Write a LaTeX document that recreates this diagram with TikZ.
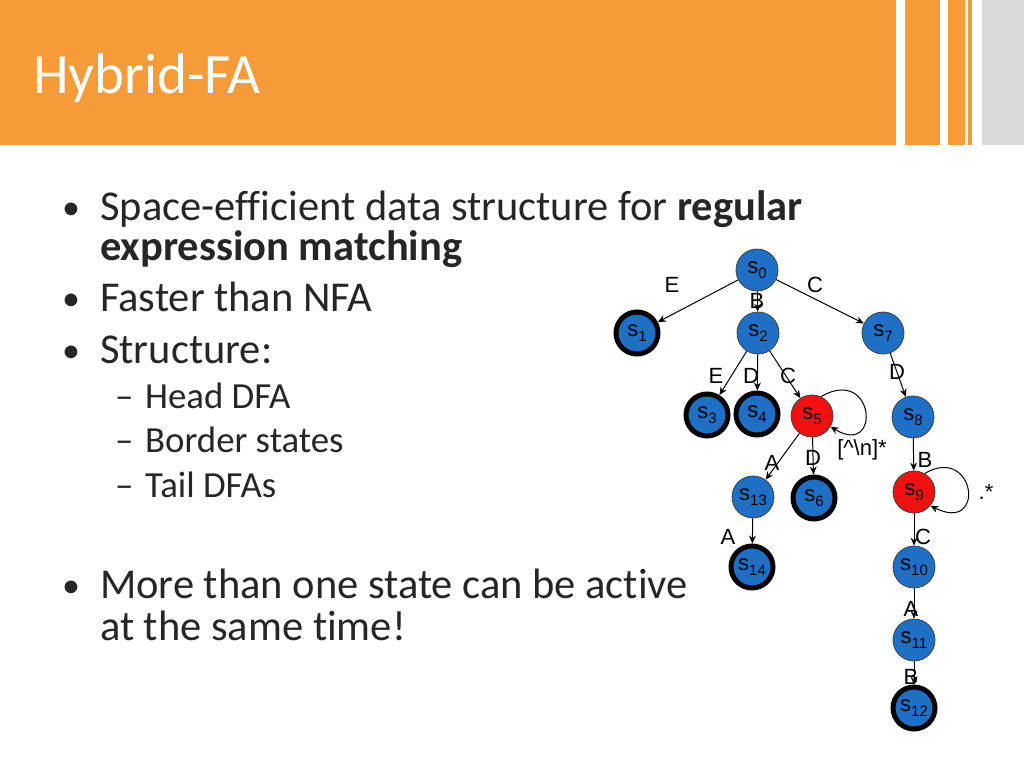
\documentclass[tikz,border=0pt]{standalone}
\usepackage{fontspec}
\setmainfont{Carlito}[Ligatures=NoCommon]
\newfontfamily\arialf{Liberation Sans}
\usetikzlibrary{arrows.meta}
\definecolor{orng}{HTML}{F59B3A}
\definecolor{gry}{HTML}{D9D9D9}
\definecolor{nblue}{HTML}{1F6FC4}
\definecolor{nred}{HTML}{F21010}
\definecolor{txt}{HTML}{262626}
\newcommand\ssub[1]{\raisebox{-5pt}{\fontsize{15}{15}\selectfont #1}}
\begin{document}
\begin{tikzpicture}[x=1pt,y=-1pt,
  st/.style={circle, fill=nblue, draw=black!75, line width=0.8pt, minimum size=42pt, inner sep=0pt, font=\arialf\fontsize{22}{22}\selectfont},
  acc/.style={st, draw=black, line width=5pt},
  rd/.style={st, fill=nred},
  arr/.style={-{Stealth[length=8pt,width=7pt]}, line width=1pt},
  lbl/.style={font=\arialf\fontsize{22}{22}\selectfont, inner sep=0pt},
  body/.style={anchor=base west, inner sep=0pt, text=txt, font=\fontsize{42.5}{42.5}\selectfont},
  bul/.style={anchor=base west, inner sep=0pt, text=txt, font=\fontsize{36}{36}\selectfont},
  subb/.style={anchor=base west, inner sep=0pt, text=txt, font=\fontsize{36.8}{36.8}\selectfont}]
\useasboundingbox (0,0) rectangle (1024,768);
\fill[white] (0,0) rectangle (1024,768);
% header
\fill[orng] (0,0) rectangle (896,145);
\fill[orng] (905,0) rectangle (940,145);
\fill[orng] (948,0) rectangle (965,145);
\fill[orng] (968,0) rectangle (972,145);
\fill[gry] (982,0) rectangle (1024,145);
\node[anchor=base west, inner sep=0pt, text=white, font=\fontsize{57}{57}\selectfont] (title) at (33,93) {Hybrid-FA};
% bullets
\node[bul] (b1) at (62,219) {•};
\node[body] (t1) at (100,220) {Space-efficient data structure for \textbf{regular}};
\node[body] (t1b) at (100,260) {\textbf{expression matching}};
\node[bul] (b2) at (62,310) {•};
\node[body] (t2) at (100,311) {Faster than NFA};
\node[bul] (b3) at (62,362) {•};
\node[body] (t3) at (100,363) {Structure:};
\node[subb] (d1) at (115,408) {–};
\node[subb] (u1) at (145,408) {Head DFA};
\node[subb] (d2) at (115,452) {–};
\node[subb] (u2) at (145,452) {Border states};
\node[subb] (d3) at (115,497) {–};
\node[subb] (u3) at (145,497) {Tail DFAs};
\node[bul] (b4) at (62,597) {•};
\node[body] (t4) at (100,598) {More than one state can be active};
\node[body] (t4b) at (100,640) {at the same time!};
% states
\node[st]  (s0)  at (757,270) {s\ssub{0}};
\node[acc] (s1)  at (637,333) {s\ssub{1}};
\node[st]  (s2)  at (758,333) {s\ssub{2}};
\node[st]  (s7)  at (883,333) {s\ssub{7}};
\node[acc] (s3)  at (707,415) {s\ssub{3}};
\node[acc] (s4)  at (757,414) {s\ssub{4}};
\node[rd]  (s5)  at (812,416) {s\ssub{5}};
\node[st]  (s8)  at (913,417) {s\ssub{8}};
\node[st]  (s13) at (753,497) {s\ssub{13}};
\node[acc] (s6)  at (814,498) {s\ssub{6}};
\node[rd]  (s9)  at (914,492) {s\ssub{9}};
\node[acc] (s14) at (752,567) {s\ssub{14}};
\node[st]  (s10) at (914,567) {s\ssub{10}};
\node[st]  (s11) at (914,640) {s\ssub{11}};
\node[acc] (s12) at (914,708) {s\ssub{12}};
% edges
\draw[arr] (s0) -- (s1) node[lbl] at (672,285) {E};
\draw[arr] (s0) -- (s2) node[lbl] at (757,301) {B};
\draw[arr] (s0) -- (s7) node[lbl] at (815,285) {C};
\draw[arr] (s2) -- (s3) node[lbl] at (716,376) {E};
\draw[arr] (s2) -- (s4) node[lbl] at (751,376) {D};
\draw[arr] (s2) -- (s5) node[lbl] at (788,376) {C};
\draw[arr] (s7) -- (s8) node[lbl] at (897,372) {D};
\draw[arr] (s5.65) .. controls (875,365) and (882,458) .. (s5.-30) node[lbl] at (862,450) {[\textasciicircum\textbackslash n]*};
\draw[arr] (s5) -- (s13) node[lbl] at (772,463) {A};
\draw[arr] (s5) -- (s6) node[lbl] at (813,458) {D};
\draw[arr] (s8) -- (s9) node[lbl] at (925,460) {B};
\draw[arr] (s9.60) .. controls (975,444) and (987,534) .. (s9.-40) node[lbl] at (986,492) {.*};
\draw[arr] (s9) -- (s10) node[lbl] at (923,537) {C};
\draw[arr] (s13) -- (s14) node[lbl] at (728,537) {A};
\draw[arr] (s10) -- (s11) node[lbl] at (911,609) {A};
\draw[arr] (s11) -- (s12) node[lbl] at (911,677) {B};
\end{tikzpicture}
\end{document}
